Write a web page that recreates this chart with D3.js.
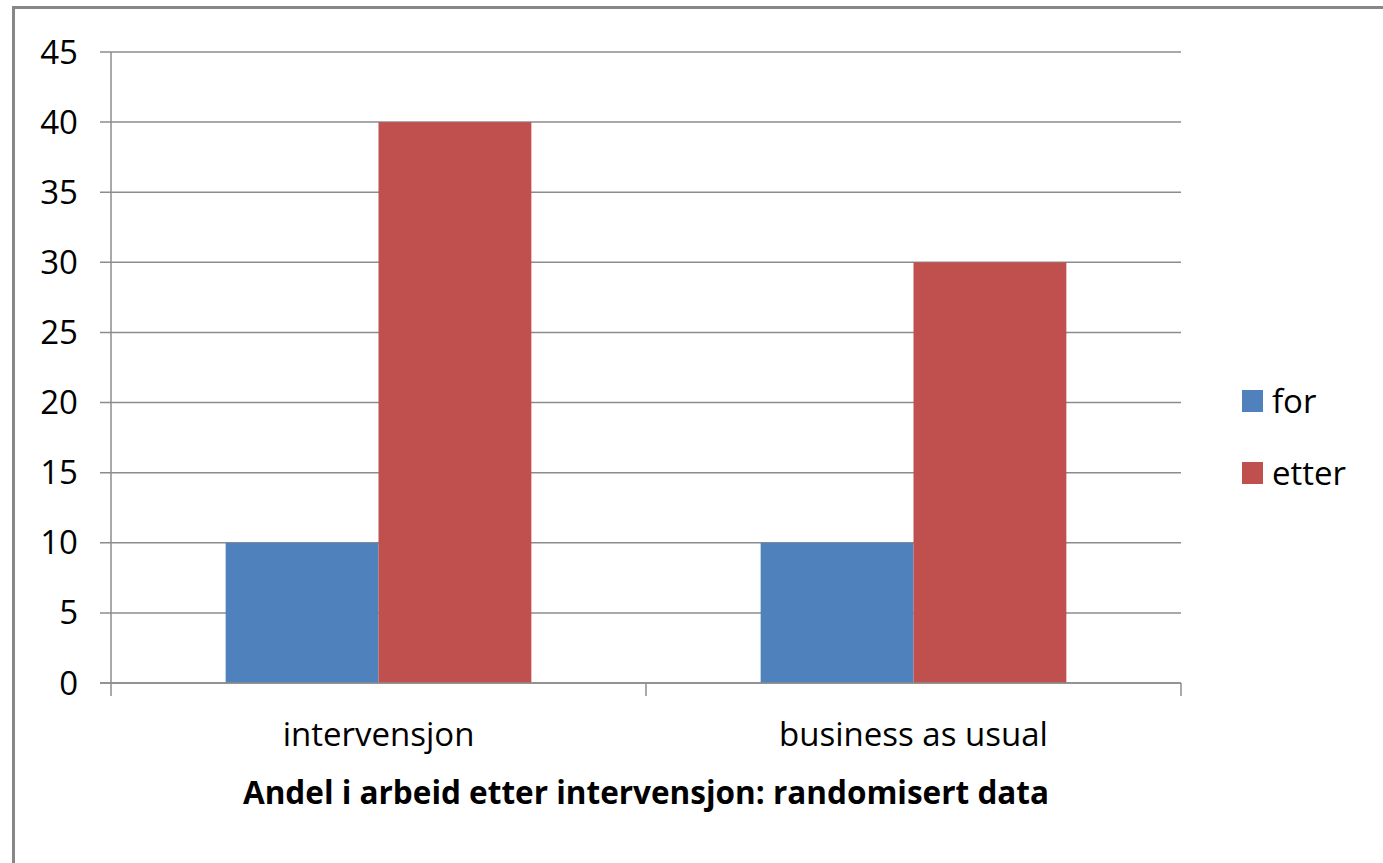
<!DOCTYPE html>
<html><head><meta charset="utf-8">
<script src="https://cdn.jsdelivr.net/npm/d3@7"></script>
<style>body{margin:0;background:#fff}svg{display:block}text{font-family:"Open Sans",sans-serif}</style>
</head><body><svg id="c" width="1383" height="863"></svg>
<script>
const categories = ["intervensjon", "business as usual"];
const seriesNames = ["for", "etter"];
const forValues = [10, 10];
const etterValues = [40, 30];
const yTicks = [0, 5, 10, 15, 20, 25, 30, 35, 40, 45];
const colors = ["#4F81BD", "#C0504D"];
const title = "Andel i arbeid etter intervensjon: randomisert data";

const svg = d3.select("#c");
svg.append("rect").attr("x", 13.5).attr("y", 7.5).attr("width", 1383).attr("height", 900)
  .attr("fill", "#fff").attr("stroke", "#878787").attr("stroke-width", 3);

const L = 111, R = 1181, T = 52, B = 683;
const x = d3.scaleBand().domain(categories).range([L, R]).paddingInner(0).paddingOuter(0);
const y = d3.scaleLinear().domain([0, 45]).range([B, T]);
const xs = d3.scaleBand().domain(seriesNames).range([0, x.bandwidth()]).paddingInner(0).paddingOuter(0.75);

// gridlines
svg.append("g").selectAll("line").data(yTicks).join("line")
  .attr("x1", L - 11).attr("x2", R).attr("y1", d => y(d)).attr("y2", d => y(d))
  .attr("stroke", "#8c8c8c").attr("stroke-width", 1.5);

const data = categories.map((c, i) => ({c, vals: [forValues[i], etterValues[i]]}));
svg.append("g").selectAll("g").data(data).join("g")
  .attr("transform", d => `translate(${x(d.c)},0)`)
  .selectAll("rect").data(d => d.vals.map((v, j) => ({v, s: seriesNames[j], j})))
  .join("rect")
  .attr("x", d => xs(d.s)).attr("width", xs.bandwidth())
  .attr("y", d => y(d.v)).attr("height", d => y(0) - y(d.v))
  .attr("fill", d => colors[d.j]);

// y axis line
svg.append("line").attr("x1", L).attr("x2", L).attr("y1", T).attr("y2", B)
  .attr("stroke", "#8c8c8c").attr("stroke-width", 1.5);
// x axis line
svg.append("line").attr("x1", L - 11).attr("x2", R).attr("y1", B).attr("y2", B)
  .attr("stroke", "#8c8c8c").attr("stroke-width", 1.5);
// x ticks at band boundaries
const bounds = [x(categories[0]), x(categories[1]), x(categories[1]) + x.bandwidth()];
svg.append("g").selectAll("line").data(bounds).join("line")
  .attr("x1", d => d).attr("x2", d => d).attr("y1", B).attr("y2", B + 13)
  .attr("stroke", "#8c8c8c").attr("stroke-width", 1.5);

// y labels
svg.append("g").selectAll("text").data(yTicks).join("text")
  .attr("x", 78).attr("y", d => y(d) + 11.5).attr("text-anchor", "end")
  .attr("font-size", 33).attr("fill", "#000").text(d => d);

// category labels
svg.append("g").selectAll("text").data(categories).join("text")
  .attr("x", d => x(d) + x.bandwidth() / 2).attr("y", 746).attr("text-anchor", "middle")
  .attr("font-size", 33).attr("fill", "#000").text(d => d);

// title
svg.append("text").attr("x", (L + R) / 2).attr("y", 804).attr("text-anchor", "middle")
  .attr("font-size", 31.5).attr("font-weight", "bold").attr("fill", "#000").text(title);

// legend
const lg = svg.append("g").selectAll("g").data(seriesNames).join("g")
  .attr("transform", (d, i) => `translate(1242,${390 + i * 72})`);
lg.append("rect").attr("width", 21).attr("height", 22).attr("fill", (d, i) => colors[i]);
lg.append("text").attr("x", 30).attr("y", 23).attr("font-size", 33).attr("fill", "#000").text(d => d);
</script></body></html>
